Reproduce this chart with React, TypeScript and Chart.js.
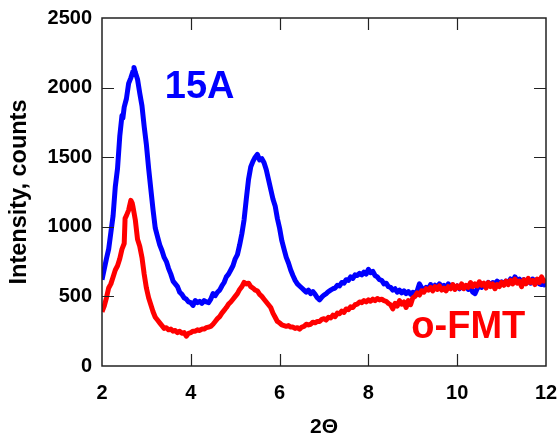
import React, { useEffect, useRef } from "react";
import { Chart, registerables } from "chart.js";

Chart.register(...registerables);

// [2Θ, intensity]
const blueSeries: [number, number][] = [
  [2.0, 620], [2.1, 770], [2.15, 840], [2.2, 960], [2.25, 1080], [2.3, 1290], [2.35, 1420], [2.4, 1650], [2.45, 1800], [2.47, 1780],
  [2.5, 1860], [2.55, 1920], [2.6, 2030], [2.65, 2070], [2.7, 2120], [2.72, 2145], [2.75, 2110], [2.8, 2060], [2.85, 1960], [2.9, 1870],
  [2.95, 1720], [3.0, 1590], [3.05, 1420], [3.1, 1270], [3.15, 1120], [3.2, 990], [3.25, 930], [3.3, 870], [3.35, 830], [3.4, 780],
  [3.45, 750], [3.5, 700], [3.55, 660], [3.6, 610], [3.65, 590], [3.7, 570], [3.75, 530], [3.8, 515], [3.85, 490], [3.9, 480],
  [3.95, 460], [4.0, 455], [4.05, 435], [4.1, 470], [4.15, 455], [4.2, 465], [4.25, 450], [4.3, 470], [4.35, 460], [4.4, 455],
  [4.45, 480], [4.5, 520], [4.55, 505], [4.6, 530], [4.65, 545], [4.7, 575], [4.75, 600], [4.8, 640], [4.85, 660], [4.9, 690],
  [4.95, 720], [5.0, 770], [5.05, 800], [5.1, 870], [5.15, 950], [5.2, 1050], [5.25, 1200], [5.3, 1340], [5.35, 1430], [5.4, 1470],
  [5.45, 1500], [5.5, 1520], [5.55, 1480], [5.6, 1490], [5.65, 1460], [5.7, 1410], [5.75, 1340], [5.8, 1270], [5.85, 1200], [5.9, 1150],
  [5.95, 1060], [6.0, 990], [6.05, 900], [6.1, 840], [6.15, 780], [6.2, 740], [6.25, 690], [6.3, 650], [6.35, 615], [6.4, 590],
  [6.45, 575], [6.5, 560], [6.55, 545], [6.6, 530], [6.65, 545], [6.7, 520], [6.75, 535], [6.8, 515], [6.85, 490], [6.9, 475],
  [6.95, 495], [7.0, 510], [7.05, 520], [7.1, 535], [7.15, 545], [7.2, 555], [7.25, 560], [7.3, 580], [7.35, 575], [7.4, 600],
  [7.45, 595], [7.5, 620], [7.55, 615], [7.6, 640], [7.65, 630], [7.7, 655], [7.75, 650], [7.8, 665], [7.85, 655], [7.9, 675],
  [7.95, 660], [8.0, 695], [8.05, 670], [8.1, 680], [8.15, 650], [8.2, 640], [8.25, 620], [8.3, 615], [8.35, 590], [8.4, 595],
  [8.45, 570], [8.5, 565], [8.55, 545], [8.6, 555], [8.65, 530], [8.7, 545], [8.75, 525], [8.8, 540], [8.85, 520], [8.9, 535],
  [8.95, 515], [9.0, 530], [9.05, 520], [9.1, 540], [9.15, 590], [9.2, 560], [9.25, 545], [9.3, 565], [9.35, 555], [9.4, 585],
  [9.45, 560], [9.5, 580], [9.55, 565], [9.6, 590], [9.65, 570], [9.7, 580], [9.75, 565], [9.8, 590], [9.85, 565], [9.9, 580],
  [9.95, 560], [10.0, 575], [10.05, 555], [10.1, 570], [10.15, 560], [10.2, 575], [10.25, 550], [10.3, 565], [10.35, 530], [10.4, 520],
  [10.45, 555], [10.5, 575], [10.55, 565], [10.6, 590], [10.65, 575], [10.7, 600], [10.75, 585], [10.8, 600], [10.85, 590], [10.9, 610],
  [10.95, 595], [11.0, 605], [11.05, 590], [11.1, 610], [11.15, 600], [11.2, 625], [11.25, 610], [11.3, 640], [11.35, 615], [11.4, 625],
  [11.45, 605], [11.5, 620], [11.55, 600], [11.6, 615], [11.65, 595], [11.7, 625], [11.75, 605], [11.8, 620], [11.85, 590], [11.9, 585],
  [11.95, 600], [12.0, 570],
];

const redSeries: [number, number][] = [
  [2.0, 390], [2.05, 430], [2.1, 490], [2.15, 560], [2.2, 590], [2.25, 640], [2.3, 690], [2.35, 720], [2.4, 770], [2.45, 840],
  [2.5, 880], [2.52, 1060], [2.55, 1080], [2.6, 1120], [2.65, 1190], [2.68, 1170], [2.7, 1140], [2.75, 1050], [2.8, 910], [2.85, 860],
  [2.9, 780], [2.95, 660], [3.0, 560], [3.05, 490], [3.1, 440], [3.15, 390], [3.2, 350], [3.25, 330], [3.3, 310], [3.35, 290],
  [3.4, 270], [3.45, 275], [3.5, 260], [3.55, 265], [3.6, 250], [3.65, 255], [3.7, 240], [3.75, 250], [3.8, 235], [3.85, 240],
  [3.9, 215], [3.95, 235], [4.0, 240], [4.05, 250], [4.1, 250], [4.15, 260], [4.2, 255], [4.25, 265], [4.3, 265], [4.35, 275],
  [4.4, 280], [4.45, 285], [4.5, 300], [4.55, 320], [4.6, 340], [4.65, 355], [4.7, 380], [4.75, 400], [4.8, 420], [4.85, 445],
  [4.9, 460], [4.95, 480], [5.0, 500], [5.05, 520], [5.1, 550], [5.15, 570], [5.2, 600], [5.25, 590], [5.3, 595], [5.35, 570],
  [5.4, 560], [5.45, 545], [5.5, 540], [5.55, 515], [5.6, 500], [5.65, 480], [5.7, 460], [5.75, 440], [5.8, 420], [5.85, 380],
  [5.9, 350], [5.95, 320], [6.0, 310], [6.05, 295], [6.1, 290], [6.15, 285], [6.2, 290], [6.25, 280], [6.3, 280], [6.35, 270],
  [6.4, 275], [6.45, 265], [6.5, 280], [6.55, 285], [6.6, 300], [6.65, 295], [6.7, 300], [6.75, 315], [6.8, 310], [6.85, 320],
  [6.9, 320], [6.95, 335], [7.0, 340], [7.05, 330], [7.1, 350], [7.15, 345], [7.2, 365], [7.25, 355], [7.3, 380], [7.35, 375],
  [7.4, 395], [7.45, 385], [7.5, 410], [7.55, 405], [7.6, 425], [7.65, 420], [7.7, 440], [7.75, 445], [7.8, 460], [7.85, 455],
  [7.9, 470], [7.95, 460], [8.0, 475], [8.05, 465], [8.1, 480], [8.15, 470], [8.2, 485], [8.25, 475], [8.3, 480], [8.35, 470],
  [8.4, 465], [8.45, 450], [8.5, 440], [8.55, 410], [8.6, 450], [8.65, 430], [8.7, 470], [8.75, 445], [8.8, 460], [8.85, 420],
  [8.9, 470], [8.95, 440], [9.0, 490], [9.05, 500], [9.1, 525], [9.15, 510], [9.2, 540], [9.25, 530], [9.3, 555], [9.35, 545],
  [9.4, 565], [9.45, 540], [9.5, 570], [9.55, 550], [9.6, 575], [9.65, 545], [9.7, 560], [9.75, 540], [9.8, 570], [9.85, 555],
  [9.9, 585], [9.95, 550], [10.0, 575], [10.05, 560], [10.1, 590], [10.15, 555], [10.2, 580], [10.25, 565], [10.3, 600], [10.35, 570],
  [10.4, 590], [10.45, 575], [10.5, 605], [10.55, 580], [10.6, 595], [10.65, 560], [10.7, 600], [10.75, 570], [10.8, 590], [10.85, 555],
  [10.9, 585], [10.95, 570], [11.0, 600], [11.05, 580], [11.1, 610], [11.15, 585], [11.2, 615], [11.25, 590], [11.3, 625], [11.35, 595],
  [11.4, 610], [11.45, 570], [11.5, 620], [11.55, 590], [11.6, 630], [11.65, 600], [11.7, 615], [11.75, 585], [11.8, 625], [11.85, 600],
  [11.9, 640], [11.95, 610], [12.0, 625],
];

const xTicks = [2, 4, 6, 8, 10, 12];
const yTicks = [0, 500, 1000, 1500, 2000, 2500];

const annotations = [
  { text: "15A", x: 4.2, y: 2000, color: "#0000ff" },
  { text: "o-FMT", x: 10.25, y: 280, color: "#ff0000" },
];

const FONT = "'Liberation Sans', Arial, sans-serif";

const framePlugin = {
  id: "frame",
  afterDatasetsDraw(chart: any) {
    const { ctx, chartArea, scales } = chart;
    const { left, right, top, bottom } = chartArea;
    ctx.save();
    ctx.strokeStyle = "#222";
    ctx.lineWidth = 1.5;
    ctx.strokeRect(left, top, right - left, bottom - top);
    ctx.lineWidth = 1.2;
    const L = 12;
    xTicks.forEach((v) => {
      if (v === xTicks[0] || v === xTicks[xTicks.length - 1]) return;
      const px = Math.round(scales.x.getPixelForValue(v)) + 0.5;
      ctx.beginPath();
      ctx.moveTo(px, bottom);
      ctx.lineTo(px, bottom - L);
      ctx.moveTo(px, top);
      ctx.lineTo(px, top + L);
      ctx.stroke();
    });
    yTicks.forEach((v) => {
      if (v === yTicks[0] || v === yTicks[yTicks.length - 1]) return;
      const py = Math.round(scales.y.getPixelForValue(v)) + 0.5;
      ctx.beginPath();
      ctx.moveTo(left, py);
      ctx.lineTo(left + L, py);
      ctx.moveTo(right, py);
      ctx.lineTo(right - L, py);
      ctx.stroke();
    });
    annotations.forEach((a) => {
      ctx.font = `bold 38px ${FONT}`;
      ctx.fillStyle = a.color;
      ctx.textAlign = "center";
      ctx.textBaseline = "middle";
      ctx.fillText(a.text, scales.x.getPixelForValue(a.x), scales.y.getPixelForValue(a.y));
    });
    ctx.restore();
  },
};

export default function App() {
  const ref = useRef<HTMLCanvasElement>(null);
  useEffect(() => {
    if (!ref.current) return;
    const chart = new Chart(ref.current, {
      type: "line",
      data: {
        datasets: [
          {
            label: "o-FMT",
            data: redSeries.map(([x, y]) => ({ x, y })),
            borderColor: "#ff0000",
            borderWidth: 5,
            borderJoinStyle: "round",
            pointRadius: 0,
            tension: 0,
            fill: false,
          },
          {
            label: "15A",
            data: blueSeries.map(([x, y]) => ({ x, y })),
            borderColor: "#0000ff",
            borderWidth: 5,
            borderJoinStyle: "round",
            pointRadius: 0,
            tension: 0,
            fill: false,
          },
        ],
      },
      options: {
        responsive: false,
        animation: false,
        layout: { padding: { left: 0, top: 18, right: 12, bottom: 0 } },
        plugins: { legend: { display: false }, tooltip: { enabled: false } },
        scales: {
          x: {
            type: "linear",
            min: 2,
            max: 12,
            afterBuildTicks(scale: any) {
              scale.ticks = xTicks.map((v) => ({ value: v }));
            },
            afterFit(scale: any) {
              scale.height = 74;
              scale.paddingLeft = 0;
              scale.paddingRight = 0;
            },
            grid: { display: false, drawTicks: false },
            border: { display: false },
            ticks: {
              padding: 15,
              color: "#000",
              font: { family: FONT, size: 20, weight: "bold" },
              callback: (v: any) => String(v),
            },
            title: {
              display: true,
              text: "2Θ",
              color: "#000",
              font: { family: FONT, size: 21, weight: "bold" },
              padding: { top: 0, bottom: 0 },
            },
          },
          y: {
            type: "linear",
            min: 0,
            max: 2500,
            afterBuildTicks(scale: any) {
              scale.ticks = yTicks.map((v) => ({ value: v }));
            },
            afterFit(scale: any) {
              scale.width = 102;
              scale.paddingTop = 0;
              scale.paddingBottom = 0;
            },
            grid: { display: false, drawTicks: false },
            border: { display: false },
            ticks: {
              padding: 10,
              color: "#000",
              font: { family: FONT, size: 20, weight: "bold" },
              callback: (v: any) => String(v),
            },
            title: {
              display: true,
              text: "Intensity, counts",
              color: "#000",
              font: { family: FONT, size: 23.5, weight: "bold" },
              padding: { top: 5, bottom: 0 },
            },
          },
        },
      },
      plugins: [framePlugin],
    } as any);
    return () => chart.destroy();
  }, []);
  return (
    <div style={{ position: "absolute", left: 0, top: 0, width: 558, height: 440 }}>
      <canvas ref={ref} width={558} height={440} style={{ display: "block" }} />
    </div>
  );
}
